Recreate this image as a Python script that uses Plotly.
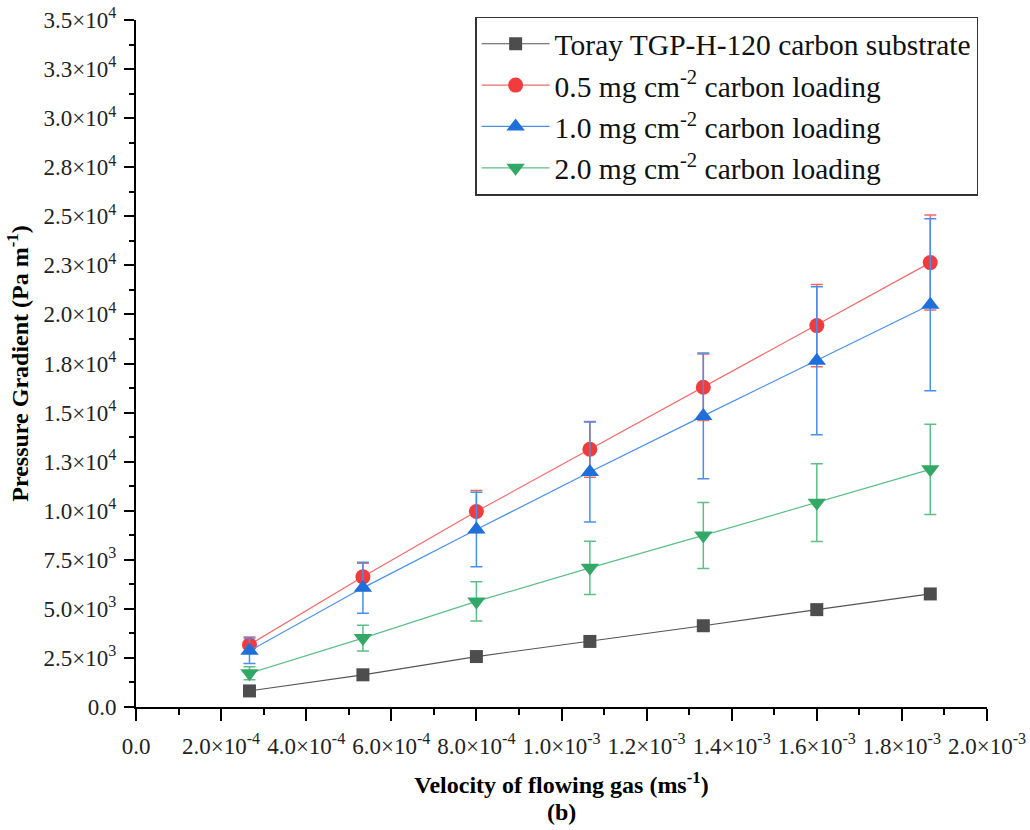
import plotly.graph_objects as go

velocity = [2.667e-4, 5.333e-4, 8.0e-4, 1.0667e-3, 1.3333e-3, 1.6e-3, 1.8667e-3]

toray = [820, 1640, 2570, 3340, 4140, 4960, 5760]
load05 = [3170, 6630, 9960, 13130, 16290, 19430, 22640]
load05_err = [400, 690, 1070, 1420, 1700, 2090, 2420]
load10 = [2860, 6070, 9040, 11970, 14830, 17640, 20490]
load10_err = [650, 1300, 1900, 2550, 3200, 3770, 4380]
load20 = [1720, 3510, 5380, 7090, 8740, 10410, 12110]
load20_err = [330, 660, 1000, 1360, 1680, 1980, 2300]

names = ["Toray TGP-H-120 carbon substrate",
         "0.5 mg cm<sup>-2</sup> carbon loading",
         "1.0 mg cm<sup>-2</sup> carbon loading",
         "2.0 mg cm<sup>-2</sup> carbon loading"]

x_tickvals = [0, 2e-4, 4e-4, 6e-4, 8e-4, 1e-3, 1.2e-3, 1.4e-3, 1.6e-3, 1.8e-3, 2e-3]
x_ticktext = ["0.0", "2.0×10<sup>-4</sup>", "4.0×10<sup>-4</sup>", "6.0×10<sup>-4</sup>",
              "8.0×10<sup>-4</sup>", "1.0×10<sup>-3</sup>", "1.2×10<sup>-3</sup>",
              "1.4×10<sup>-3</sup>", "1.6×10<sup>-3</sup>", "1.8×10<sup>-3</sup>",
              "2.0×10<sup>-3</sup>"]
y_tickvals = [0, 2500, 5000, 7500, 10000, 12500, 15000, 17500, 20000, 22500, 25000,
              27500, 30000, 32500, 35000]
y_ticktext = ["0.0", "2.5×10<sup>3</sup>", "5.0×10<sup>3</sup>", "7.5×10<sup>3</sup>",
              "1.0×10<sup>4</sup>", "1.3×10<sup>4</sup>", "1.5×10<sup>4</sup>",
              "1.8×10<sup>4</sup>", "2.0×10<sup>4</sup>", "2.3×10<sup>4</sup>",
              "2.5×10<sup>4</sup>", "2.8×10<sup>4</sup>", "3.0×10<sup>4</sup>",
              "3.3×10<sup>4</sup>", "3.5×10<sup>4</sup>"]

FONT = "Liberation Serif"
TICK_SIZE = 23
TITLE_SIZE = 24
LEGEND_SIZE = 29.5

fig = go.Figure()

series = [
    (toray, None, names[0], "square", "#4d4d4d", "#555555", 13, None),
    (load05, load05_err, names[1], "circle", "#f03c3c", "#f26a6a", 15, "#f06a6a"),
    (load10, load10_err, names[2], "triangle-up", "#1f6fdb", "#4a8fe8", 16, "#4a8fe8"),
    (load20, load20_err, names[3], "triangle-down", "#33a866", "#5cbf86", 16, "#5cbf86"),
]

for i, (yv, err, nm, sym, mcol, lcol, msz, ecol) in enumerate(series):
    kw = {}
    if err is not None:
        kw["error_y"] = dict(type="data", array=err, visible=True, color=ecol,
                             thickness=1.5, width=6)
    fig.add_trace(go.Scatter(
        x=velocity, y=yv, name=nm, mode="lines+markers",
        line=dict(color=lcol, width=1.2),
        marker=dict(symbol=sym, color=mcol, size=msz, line=dict(width=0)),
        **kw))

fig.update_layout(
    width=1030, height=830,
    margin=dict(l=136, r=43, t=20, b=123),
    paper_bgcolor="white", plot_bgcolor="white",
    font=dict(family=FONT, size=TICK_SIZE, color="#222"),
    showlegend=True,
    legend=dict(x=0.3985, y=1.005, xanchor="left", yanchor="top",
                bordercolor="#333", borderwidth=1.5, bgcolor="white",
                font=dict(family=FONT, size=LEGEND_SIZE, color="#111"),
                itemwidth=68),
    xaxis=dict(range=[0, 2e-3], showgrid=False, zeroline=False, automargin=False,
               showline=True, linecolor="black", linewidth=2,
               ticks="outside", ticklen=12, tickwidth=2, tickcolor="black",
               tickmode="array", tickvals=x_tickvals, ticktext=x_ticktext,
               ticklabelstandoff=5,
               tickfont=dict(family=FONT, size=TICK_SIZE, color="#222"),
               minor=dict(tickmode="linear", tick0=0, dtick=1e-4, ticks="outside",
                          ticklen=6, tickwidth=2, tickcolor="black", showgrid=False),
               title=dict(text="<b>Velocity of flowing gas (ms<sup>-1</sup>)</b>",
                          font=dict(family=FONT, size=TITLE_SIZE, color="black"),
                          standoff=19)),
    yaxis=dict(range=[0, 35000], showgrid=False, zeroline=False, automargin=False,
               showline=True, linecolor="black", linewidth=2,
               ticks="outside", ticklen=10, tickwidth=2, tickcolor="black",
               tickmode="array", tickvals=y_tickvals, ticktext=y_ticktext,
               ticklabelstandoff=3,
               tickfont=dict(family=FONT, size=TICK_SIZE, color="#222"),
               minor=dict(tickmode="linear", tick0=0, dtick=1250, ticks="outside",
                          ticklen=5, tickwidth=2, tickcolor="black", showgrid=False),
               title=dict(text="<b>Pressure Gradient (Pa m<sup>-1</sup>)</b>",
                          font=dict(family=FONT, size=TITLE_SIZE, color="black"),
                          standoff=8)),
    annotations=[dict(text="<b>(b)</b>", xref="paper", yref="paper", x=0.5, y=0,
                      yshift=-105, showarrow=False, yanchor="middle",
                      font=dict(family=FONT, size=TITLE_SIZE, color="black"))],
)

fig.write_html("out.html")
